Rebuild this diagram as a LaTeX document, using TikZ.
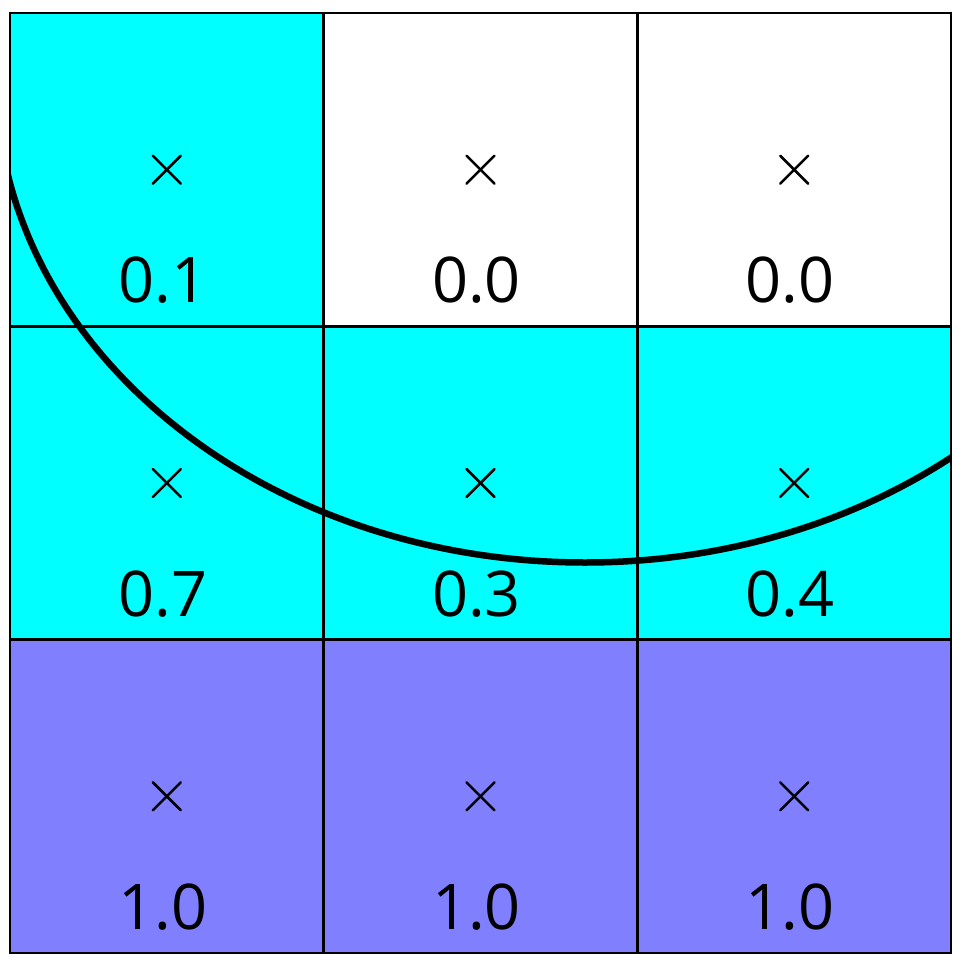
\documentclass[tikz,border=0pt]{standalone}
\usepackage{fontspec}
\setmainfont{Open Sans}
\definecolor{cyanf}{RGB}{0,255,255}
\definecolor{lav}{RGB}{128,128,255}
\tikzset{
  gridline/.style={line width=2.5pt, black},
  curveline/.style={line width=6.5pt, black},
  xmark/.style={line width=2.5pt, line cap=round, black},
  val/.style={font=\fontsize{63}{67}\selectfont, anchor=base, inner sep=0pt},
}
\begin{document}
\begin{tikzpicture}[x=1pt,y=-1pt]
\useasboundingbox (0,0) rectangle (963,968);
\fill[white] (0,0) rectangle (963,968);
% cells
\def\cw{313.667}
\def\ch{313.333}
\foreach \c/\r/\col/\v in {0/0/cyanf/0.1, 1/0/white/0.0, 2/0/white/0.0,
                            0/1/cyanf/0.7, 1/1/cyanf/0.3, 2/1/cyanf/0.4,
                            0/2/lav/1.0, 1/2/lav/1.0, 2/2/lav/1.0}{
  \pgfmathsetmacro{\xa}{10+\c*\cw}
  \pgfmathsetmacro{\ya}{13+\r*\ch}
  \pgfmathsetmacro{\xc}{\xa+\cw/2}
  \pgfmathsetmacro{\yc}{\ya+\ch/2}
  \fill[\col] (\xa,\ya) rectangle ++(\cw,\ch);
  \coordinate (m\c\r) at (\xc,\yc);
  \draw[xmark] ([shift={(-14,-14)}]m\c\r) -- ([shift={(14,14)}]m\c\r);
  \draw[xmark] ([shift={(-14,14)}]m\c\r) -- ([shift={(14,-14)}]m\c\r);
  \node[val] (t\c\r) at ([shift={(-4,133)}]m\c\r) {\v};
}
% curve
\begin{scope}
  \clip (10,13) rectangle (951,953);
  \draw[curveline] (585,77.5) ellipse [x radius=589pt, y radius=485pt];
\end{scope}
% grid
\foreach \i in {0,1,2,3}{
  \draw[gridline] ({10+\i*\cw},13) -- ({10+\i*\cw},953);
  \draw[gridline] (10,{13+\i*\ch}) -- (951,{13+\i*\ch});
}
\draw[gridline, line cap=rect] (10,13) rectangle (951,953);
\end{tikzpicture}
\end{document}
